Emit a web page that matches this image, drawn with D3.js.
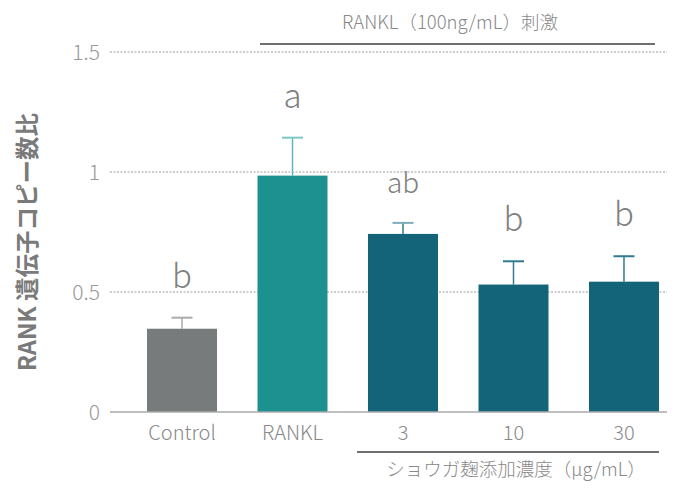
<!DOCTYPE html>
<html><head><meta charset="utf-8">
<script src="https://cdn.jsdelivr.net/npm/d3@7"></script>
<style>body{margin:0;background:#fff}svg{display:block}</style>
</head><body>
<script>
const categories = ["Control", "RANKL", "3", "10", "30"];
const means = [0.347, 0.985, 0.742, 0.531, 0.543];
const errors = [0.046, 0.158, 0.046, 0.097, 0.106];
const sigLabels = ["b", "a", "ab", "b", "b"];
const yTicks = [0, 0.5, 1, 1.5];
const yTickLabels = ["0", "0.5", "1", "1.5"];
const barColors = ["#787b7c", "#1c918f", "#136379", "#136379", "#136379"];
const errColors = ["#a9abac", "#5cb8b8", "#2f7b8f", "#2f7b8f", "#2f7b8f"];
const capColors = ["#a9abac", "#7cc7c7", "#7fadba", "#2f7b8f", "#2f7b8f"];
const yTitle = "RANK 遺伝子コピー数比";
const topLabel = "RANKL（100ng/mL）刺激";
const bottomLabel = "ショウガ麹添加濃度（μg/mL）";

const W = 680, H = 496;
const font = "'Noto Sans CJK JP','Noto Sans',sans-serif";
const svg = d3.select("body").append("svg").attr("width", W).attr("height", H);

const y = d3.scaleLinear().domain([0, 1.5]).range([412, 52]);
const x = d3.scaleBand().domain(categories).range([110, 696]).paddingInner(0.3665).paddingOuter(0.335);
const axL = 110, axR = 667;

// gridlines
svg.append("g").selectAll("line").data(yTicks.filter(d => d > 0)).join("line")
  .attr("x1", axL).attr("x2", axR).attr("y1", d => y(d)).attr("y2", d => y(d))
  .attr("stroke", "#9a9a9a").attr("stroke-width", 1).attr("stroke-dasharray", "2,1.5");

// y tick labels
svg.append("g").selectAll("text").data(yTicks).join("text")
  .attr("x", 100).attr("y", d => y(d)).attr("dy", "0.36em")
  .attr("text-anchor", "end").attr("font-family", font).attr("font-weight", 300)
  .attr("font-size", 21).attr("fill", "#999")
  .text((d, i) => yTickLabels[i]);

// bars
svg.append("g").selectAll("rect").data(categories).join("rect")
  .attr("x", d => x(d)).attr("width", x.bandwidth())
  .attr("y", (d, i) => y(means[i])).attr("height", (d, i) => y(0) - y(means[i]))
  .attr("fill", (d, i) => barColors[i]);

// error bars
const eg = svg.append("g");
categories.forEach((c, i) => {
  const cx = x(c) + x.bandwidth() / 2;
  eg.append("line").attr("x1", cx).attr("x2", cx)
    .attr("y1", y(means[i])).attr("y2", y(means[i] + errors[i]))
    .attr("stroke", errColors[i]).attr("stroke-width", 1.5);
  eg.append("line").attr("x1", cx - 10.5).attr("x2", cx + 10.5)
    .attr("y1", y(means[i] + errors[i])).attr("y2", y(means[i] + errors[i]))
    .attr("stroke", capColors[i]).attr("stroke-width", 2);
});

// x axis line
svg.append("line").attr("x1", axL).attr("x2", axR).attr("y1", y(0)).attr("y2", y(0))
  .attr("stroke", "#aaa").attr("stroke-width", 1.5);

// category labels
svg.append("g").selectAll("text").data(categories).join("text")
  .attr("x", d => x(d) + x.bandwidth() / 2).attr("y", 440)
  .attr("text-anchor", "middle").attr("font-family", font).attr("font-weight", 300)
  .attr("font-size", 20).attr("fill", "#888").text(d => d);

// significance letters
svg.append("g").selectAll("text").data(categories).join("text")
  .attr("x", d => x(d) + x.bandwidth() / 2)
  .attr("y", (d, i) => y(means[i] + errors[i]) - 30)
  .attr("text-anchor", "middle").attr("font-family", font).attr("font-weight", 300)
  .attr("font-size", (d, i) => sigLabels[i].length > 1 ? 28 : 33).attr("fill", "#808080")
  .text((d, i) => sigLabels[i]);

// y title
svg.append("text").attr("transform", "translate(36,242) rotate(-90)")
  .attr("text-anchor", "middle").attr("font-family", font).attr("font-weight", 700)
  .attr("font-size", 23.5).attr("fill", "#7a7a7a").text(yTitle);

// top bracket
svg.append("line").attr("x1", 260).attr("x2", 655).attr("y1", 44).attr("y2", 44)
  .attr("stroke", "#6f6f6f").attr("stroke-width", 2);
svg.append("text").attr("x", 450).attr("y", 29).attr("text-anchor", "middle")
  .attr("font-family", font).attr("font-weight", 300).attr("font-size", 18.5).attr("fill", "#888")
  .text(topLabel);

// bottom bracket
svg.append("line").attr("x1", 357).attr("x2", 659).attr("y1", 452).attr("y2", 452)
  .attr("stroke", "#6f6f6f").attr("stroke-width", 2);
svg.append("text").attr("x", 516).attr("y", 476).attr("text-anchor", "middle")
  .attr("font-family", font).attr("font-weight", 300).attr("font-size", 18.5).attr("fill", "#888")
  .text(bottomLabel);
</script>
</body></html>
